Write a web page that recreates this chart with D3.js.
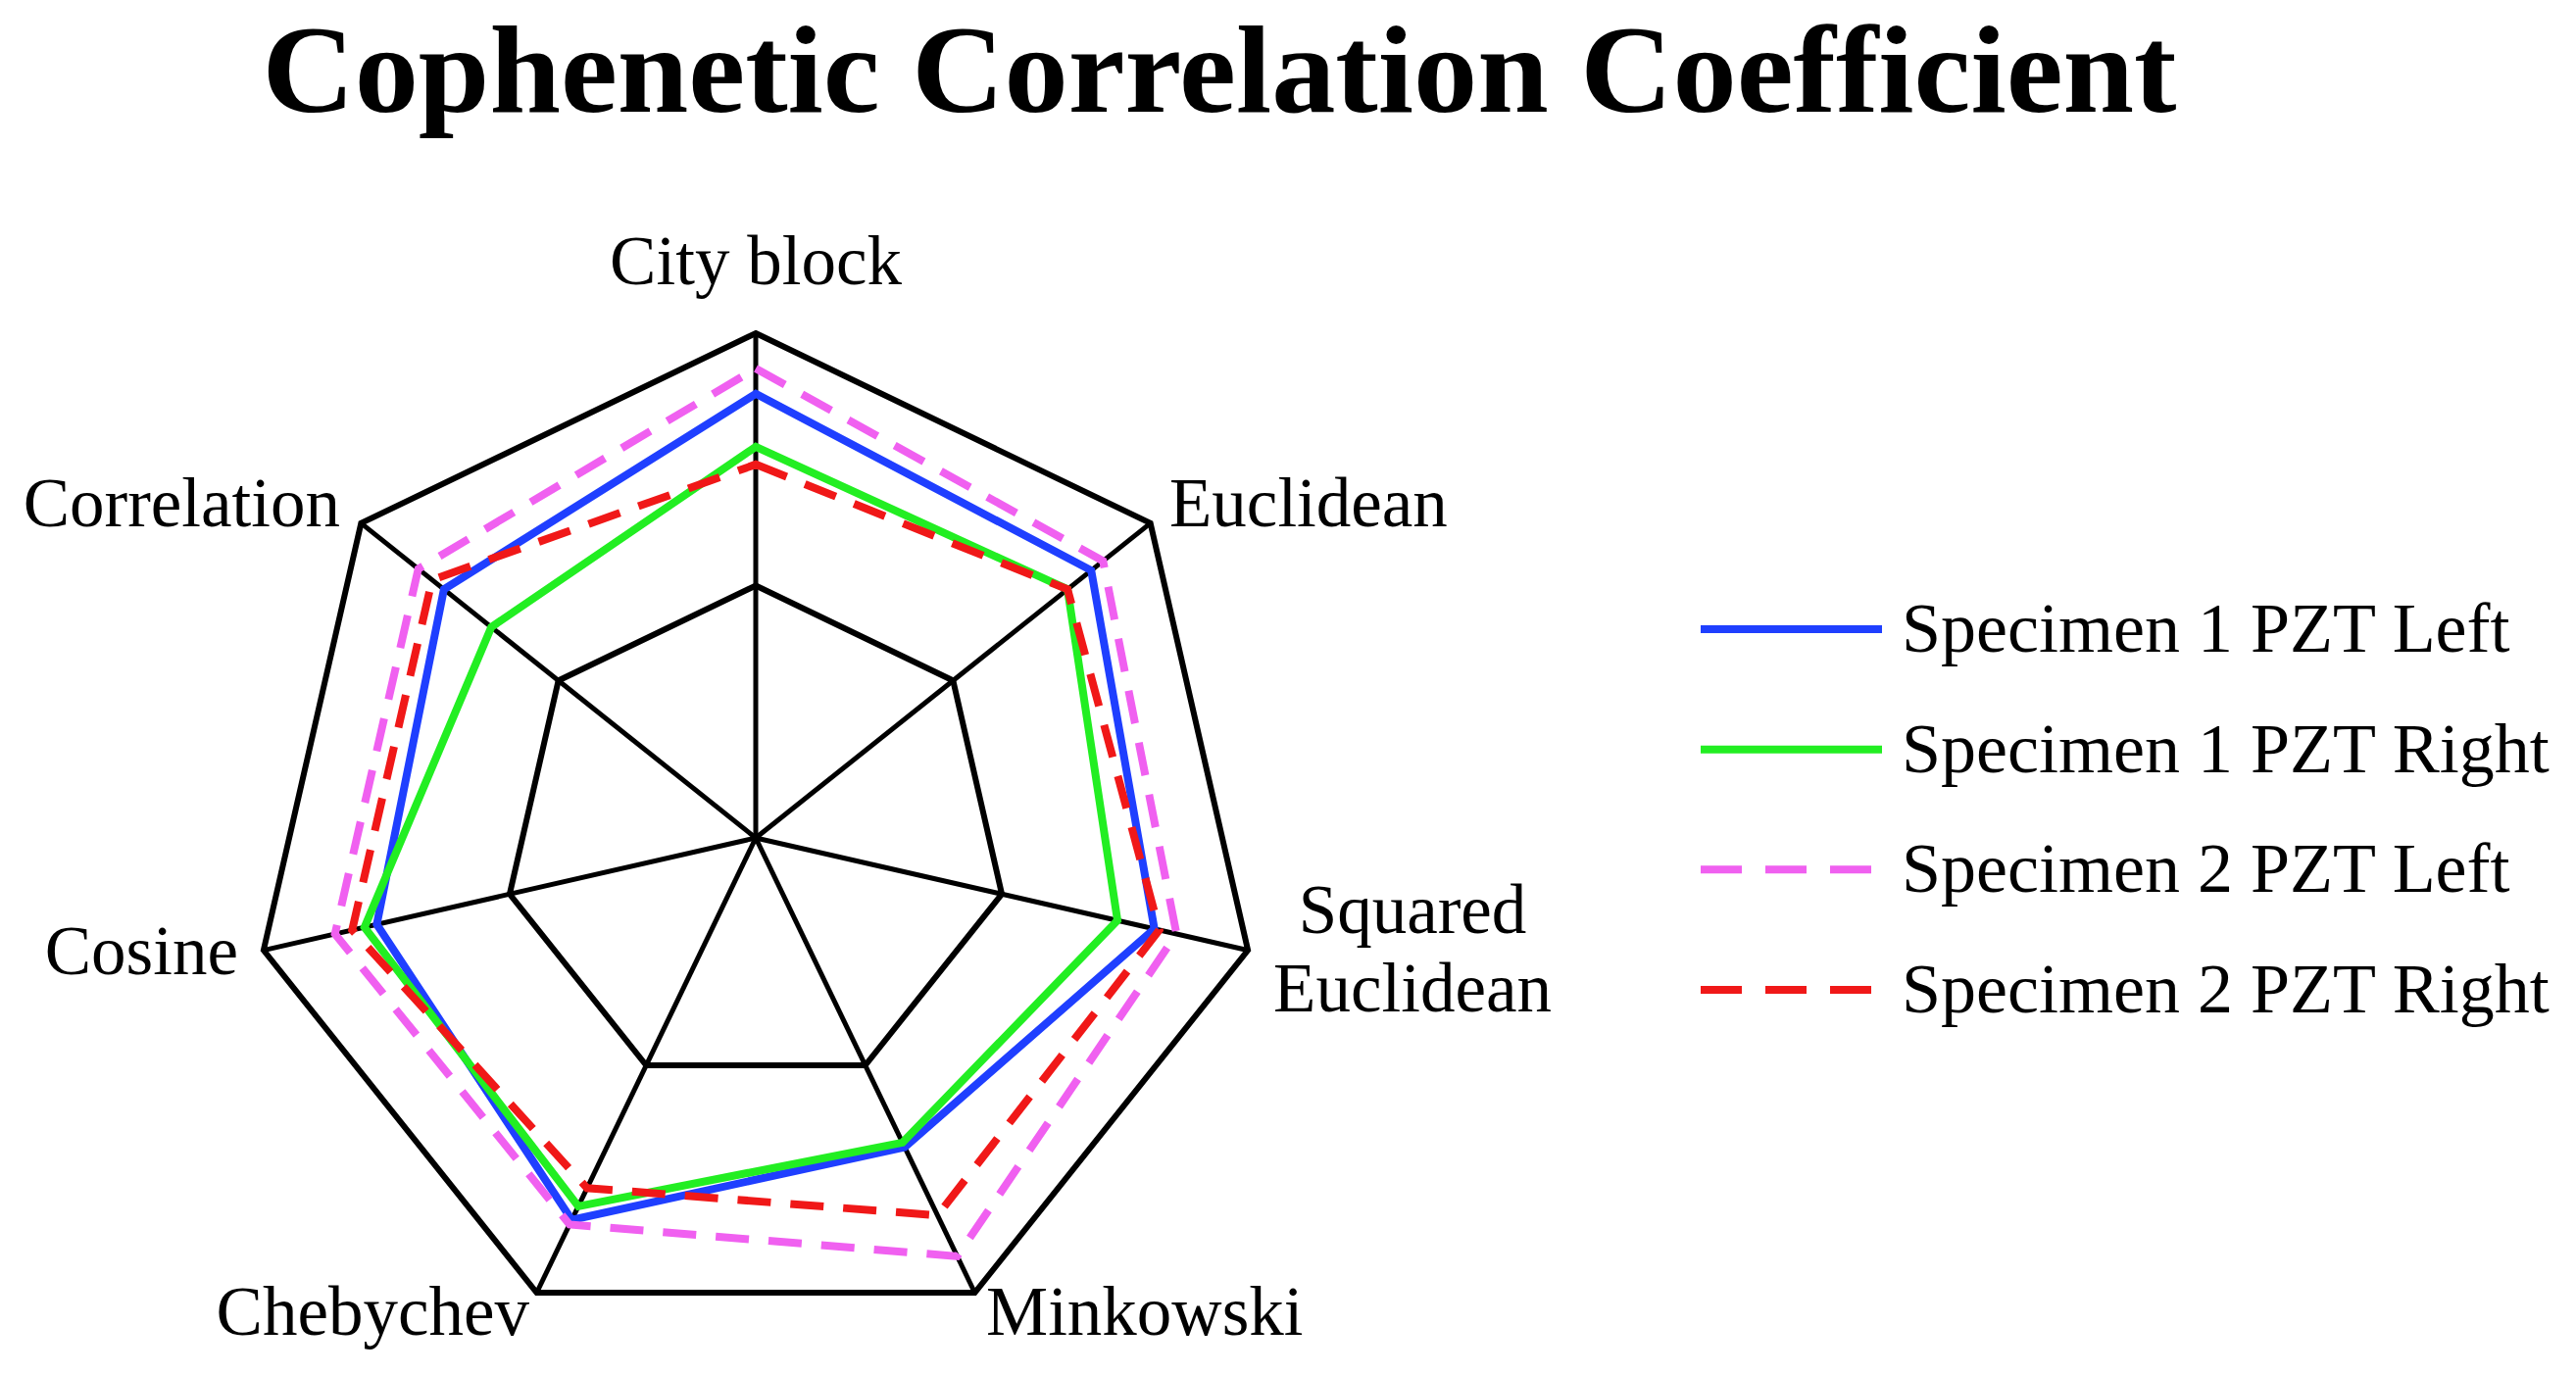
<!DOCTYPE html>
<html><head><meta charset="utf-8">
<script src="https://cdn.jsdelivr.net/npm/d3@7"></script>
<style>body{margin:0;background:#fff}</style></head>
<body><svg id="c" width="2628" height="1403"></svg>
<script>
const axes = ["City block","Euclidean","Squared Euclidean","Minkowski","Chebychev","Cosine","Correlation"];
const s1Left  = [0.88,0.85,0.81,0.68,0.84,0.77,0.79];
const s1Right = [0.775,0.79,0.735,0.67,0.81,0.795,0.67];
const s2Left  = [0.93,0.88,0.855,0.92,0.85,0.855,0.855];
const s2Right = [0.74,0.79,0.82,0.83,0.77,0.82,0.82];
const seriesNames = ["Specimen 1 PZT Left","Specimen 1 PZT Right","Specimen 2 PZT Left","Specimen 2 PZT Right"];
const rings = [0.5,1.0];

const series = [
 {name:seriesNames[0],vals:s1Left,color:"#1f3fff",dash:null},
 {name:seriesNames[1],vals:s1Right,color:"#22ee22",dash:null},
 {name:seriesNames[2],vals:s2Left,color:"#f060f0",dash:"34,20"},
 {name:seriesNames[3],vals:s2Right,color:"#f01818",dash:"34,20"}
];
const svg=d3.select("#c");
const cx=771, cy=855;
const r=d3.scaleLinear().domain([0,1]).range([0,515]);
const ang=d3.scaleLinear().domain([0,axes.length]).range([0,2*Math.PI]);
const pt=(i,v)=>[cx+r(v)*Math.sin(ang(i)), cy-r(v)*Math.cos(ang(i))];
const font="'Liberation Serif','Times New Roman',serif";

svg.append("text").attr("x",1244).attr("y",114).attr("text-anchor","middle")
 .attr("font-family",font).attr("font-weight","bold").attr("font-size",126)
 .attr("textLength",1953).attr("lengthAdjust","spacingAndGlyphs")
 .text("Cophenetic Correlation Coefficient");

const g=svg.append("g");
const line=d3.line();
rings.forEach(v=>{
  g.append("path").attr("d",line(axes.map((a,i)=>pt(i,v)))+"Z")
   .attr("fill","none").attr("stroke","#000").attr("stroke-width",6).attr("stroke-linejoin","miter");
});
axes.forEach((a,i)=>{
  const p=pt(i,1);
  g.append("line").attr("x1",cx).attr("y1",cy).attr("x2",p[0]).attr("y2",p[1])
   .attr("stroke","#000").attr("stroke-width",5);
});
series.forEach(s=>{
  g.append("path").attr("d",line(s.vals.map((v,i)=>pt(i,v)))+"Z")
   .attr("fill","none").attr("stroke",s.color).attr("stroke-width",8)
   .attr("stroke-dasharray",s.dash).attr("stroke-linejoin","miter");
});

const lab=[
 {x:771,y:290,a:"middle",t:["City block"]},
 {x:1193,y:537,a:"start",t:["Euclidean"]},
 {x:1441,y:952,a:"middle",t:["Squared","Euclidean"]},
 {x:1006,y:1362,a:"start",t:["Minkowski"]},
 {x:540,y:1362,a:"end",t:["Chebychev"]},
 {x:243,y:994,a:"end",t:["Cosine"]},
 {x:347,y:537,a:"end",t:["Correlation"]}
];
lab.forEach(l=>{
  const t=svg.append("text").attr("text-anchor",l.a).attr("font-family",font).attr("font-size",71);
  l.t.forEach((s,k)=>t.append("tspan").attr("x",l.x).attr("y",l.y+k*80).text(s));
});

const lg=svg.append("g");
const ly=d3.scalePoint().domain(seriesNames).range([642,1010]);
series.forEach(s=>{
  const y=ly(s.name);
  lg.append("line").attr("x1",1735).attr("x2",1920).attr("y1",y).attr("y2",y)
   .attr("stroke",s.color).attr("stroke-width",8).attr("stroke-dasharray",s.dash?"42,24":null);
  lg.append("text").attr("x",1940).attr("y",y+23).attr("font-family",font).attr("font-size",72).text(s.name);
});
</script></body></html>
